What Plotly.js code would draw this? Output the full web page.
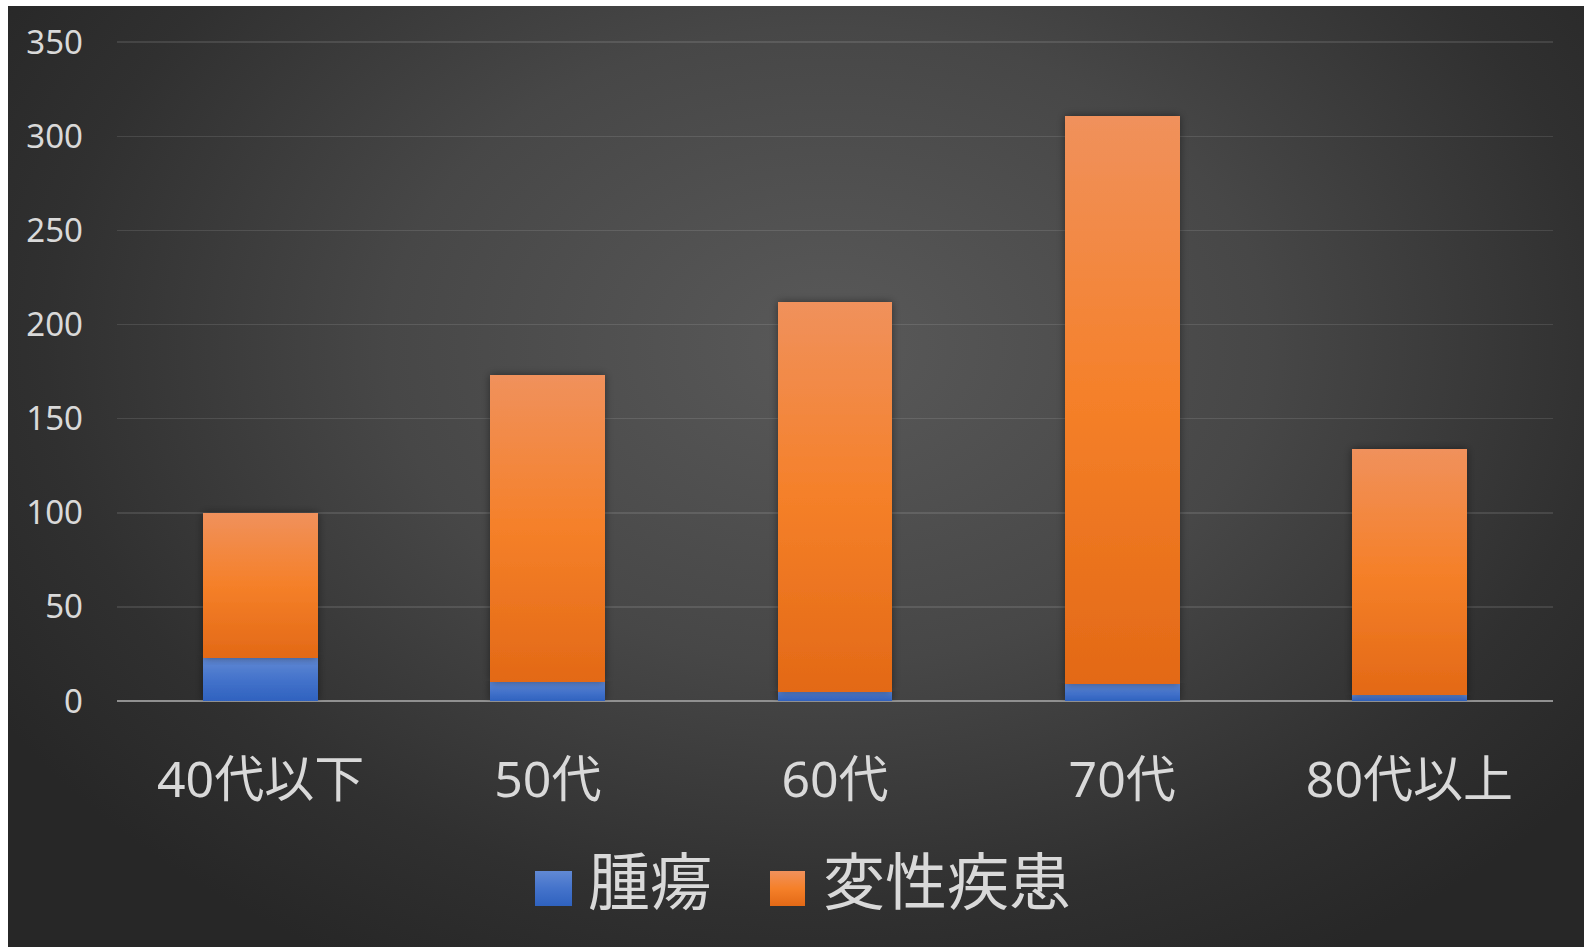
<!DOCTYPE html>
<html>
<head>
<meta charset="utf-8">
<script src="https://cdn.plot.ly/plotly-3.0.1.min.js"></script>
<style>
  html, body { margin: 0; padding: 0; background: #ffffff; width: 1584px; height: 947px; overflow: hidden; }
  #chart {
    position: absolute; left: 8px; top: 6px; width: 1576px; height: 941px;
    background: radial-gradient(ellipse 62% 75% at 52% 36%, #595959 0%, #474747 45%, #303030 80%, #272727 100%);
  }
</style>
</head>
<body>
<div id="chart"></div>
<script>
// ---- data ----
const categories = ['40代以下', '50代', '60代', '70代', '80代以上'];
const tumorValues = [23, 10, 5, 9, 3];
const degenerativeValues = [77, 163, 207, 302, 131];
const seriesNames = ['腫瘍', '変性疾患'];
const yTickValues = [0, 50, 100, 150, 200, 250, 300, 350];
const yTickLabels = ['0', '50', '100', '150', '200', '250', '300', '350'];

const textColor = '#d9d9d9';
const fontFam = '"Noto Sans", "Noto Sans CJK JP", sans-serif';

const traces = [
  { type: 'bar', x: categories, y: tumorValues, name: seriesNames[0],
    marker: { color: '#4472C4', line: { width: 0 } }, hoverinfo: 'none' },
  { type: 'bar', x: categories, y: degenerativeValues, name: seriesNames[1],
    marker: { color: '#ED7D31', line: { width: 0 } }, hoverinfo: 'none' }
];

const layout = {
  width: 1576, height: 941,
  paper_bgcolor: 'rgba(0,0,0,0)', plot_bgcolor: 'rgba(0,0,0,0)',
  margin: { l: 109, r: 31, t: 35, b: 246 },
  barmode: 'stack', bargap: 0.6,
  showlegend: false,
  font: { family: fontFam, color: textColor },
  xaxis: {
    type: 'category', showgrid: false, zeroline: false, showline: false, ticks: '',
    tickfont: { size: 50, color: textColor, family: fontFam },
    ticklabelstandoff: 45
  },
  yaxis: {
    range: [0, 350.6], tickvals: yTickValues, ticktext: yTickLabels,
    showgrid: true, gridcolor: 'rgba(255,255,255,0.11)', gridwidth: 1.5,
    zeroline: true, zerolinecolor: '#909090', zerolinewidth: 2,
    showline: false, ticks: '',
    tickfont: { size: 33, color: textColor, family: fontFam },
    ticklabelstandoff: 33
  },
  shapes: [
    { type: 'rect', xref: 'paper', yref: 'paper', layer: 'above',
      x0: (527 - 109) / 1436, x1: (564 - 109) / 1436,
      y0: (695 - 865) / 660, y1: (695 - 900) / 660,
      fillcolor: '#4472C4', line: { width: 0 } },
    { type: 'rect', xref: 'paper', yref: 'paper', layer: 'above',
      x0: (762 - 109) / 1436, x1: (797 - 109) / 1436,
      y0: (695 - 865) / 660, y1: (695 - 900) / 660,
      fillcolor: '#ED7D31', line: { width: 0 } }
  ],
  annotations: [
    { xref: 'paper', yref: 'paper', x: (578 - 109) / 1436, y: (695 - 875) / 660,
      xanchor: 'left', yanchor: 'middle', showarrow: false, text: seriesNames[0],
      font: { size: 62, color: textColor, family: fontFam } },
    { xref: 'paper', yref: 'paper', x: (813 - 109) / 1436, y: (695 - 875) / 660,
      xanchor: 'left', yanchor: 'middle', showarrow: false, text: seriesNames[1],
      font: { size: 62, color: textColor, family: fontFam } }
  ]
};

Plotly.newPlot('chart', traces, layout, { staticPlot: true, displayModeBar: false }).then(function (gd) {
  const svgNS = 'http://www.w3.org/2000/svg';
  const svg = gd.querySelector('.main-svg');
  let defs = svg.querySelector('defs');
  if (!defs) { defs = document.createElementNS(svgNS, 'defs'); svg.insertBefore(defs, svg.firstChild); }
  function grad(id, stops) {
    const g = document.createElementNS(svgNS, 'linearGradient');
    g.setAttribute('id', id);
    g.setAttribute('x1', '0'); g.setAttribute('y1', '0');
    g.setAttribute('x2', '0'); g.setAttribute('y2', '1');
    stops.forEach(function (s) {
      const st = document.createElementNS(svgNS, 'stop');
      st.setAttribute('offset', s[0]);
      st.setAttribute('stop-color', s[1]);
      g.appendChild(st);
    });
    defs.appendChild(g);
  }
  grad('gBlue', [['0', '#6189D4'], ['0.5', '#4473CB'], ['1', '#2F62BF']]);
  grad('gOrange', [['0', '#F0915C'], ['0.5', '#F58029'], ['1', '#E36916']]);
  const f = document.createElementNS(svgNS, 'filter');
  f.setAttribute('id', 'barShadow');
  f.setAttribute('x', '-20%'); f.setAttribute('y', '-5%');
  f.setAttribute('width', '140%'); f.setAttribute('height', '110%');
  const ds = document.createElementNS(svgNS, 'feDropShadow');
  ds.setAttribute('dx', '0'); ds.setAttribute('dy', '0');
  ds.setAttribute('stdDeviation', '4');
  ds.setAttribute('flood-color', '#000'); ds.setAttribute('flood-opacity', '0.45');
  f.appendChild(ds);
  defs.appendChild(f);

  const ids = ['gBlue', 'gOrange'];
  gd.querySelectorAll('.barlayer .trace').forEach(function (t, i) {
    t.querySelectorAll('path').forEach(function (p) {
      p.style.fill = 'url(#' + ids[i] + ')';
      p.style.filter = 'url(#barShadow)';
    });
  });
  gd.querySelectorAll('.shapelayer path').forEach(function (p, i) {
    if (i < 2) p.style.fill = 'url(#' + ids[i] + ')';
  });
});
</script>
</body>
</html>
